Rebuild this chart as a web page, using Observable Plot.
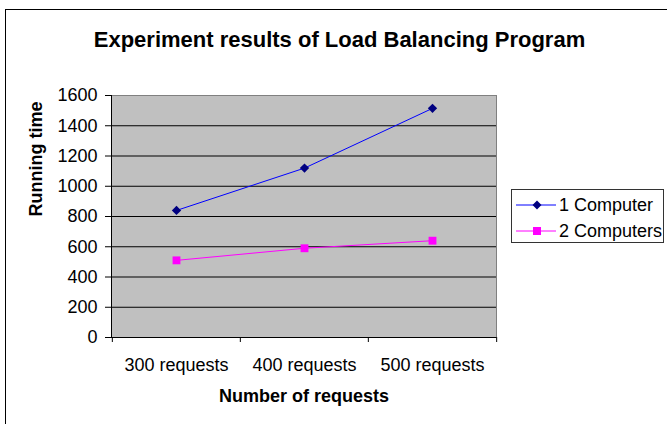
<!DOCTYPE html>
<html>
<head>
<meta charset="utf-8">
<script src="https://cdn.jsdelivr.net/npm/d3@7"></script>
<script src="https://cdn.jsdelivr.net/npm/@observablehq/plot@0.6"></script>
<style>
  html, body { margin: 0; padding: 0; background: #fff; overflow: hidden; }
  body { width: 667px; height: 424px; position: relative; font-family: "Liberation Sans", Arial, sans-serif; }
  #border { position: absolute; left: 5px; top: 9px; width: 800px; height: 600px; border: 1px solid #000; box-sizing: border-box; }
  #chart { position: absolute; left: 0; top: 0; }
  #title { position: absolute; left: 0; width: 679px; top: 28px; text-align: center; font-weight: bold; font-size: 22px; line-height: 24px; color: #000; }
  #legend { position: absolute; left: 511px; top: 189px; width: 153px; height: 54px; border: 1px solid #333; box-sizing: border-box; background: #fff; }
  .item { position: absolute; left: 0; height: 20px; width: 150px; }
  .item svg { position: absolute; left: 4px; top: 0; }
  .item span { position: absolute; left: 47px; top: 0; font-size: 18px; line-height: 20px; white-space: nowrap; color: #000; }
</style>
</head>
<body>
<div id="border"></div>
<div id="chart"></div>
<div id="title">Experiment results of Load Balancing Program</div>
<div id="legend"></div>
<script>
// ---- data ----
const categories = ["300 requests", "400 requests", "500 requests"];
const oneComputer = [840, 1120, 1515];
const twoComputers = [510, 590, 640];
const seriesNames = ["1 Computer", "2 Computers"];
const yTicks = [0, 200, 400, 600, 800, 1000, 1200, 1400, 1600];
const titleText = "Experiment results of Load Balancing Program";
const xTitle = "Number of requests";
const yTitle = "Running time";

// ---- layout / style ----
const W = 667, H = 424;
const mL = 111, mR = 171, mT = 95, mB = 87;
const bw = (W - mL - mR) / categories.length;
const colors = {line1: "#0000ff", mark1: "#000080", line2: "#ff00ff", mark2: "#ff00ff"};

const rows1 = categories.map((c, i) => ({cat: c, v: oneComputer[i]}));
const rows2 = categories.map((c, i) => ({cat: c, v: twoComputers[i]}));

const chart = Plot.plot({
  width: W, height: H,
  marginLeft: mL, marginRight: mR, marginTop: mT, marginBottom: mB,
  style: {fontFamily: "'Liberation Sans', Arial, sans-serif", fontSize: "18px", background: "transparent", color: "#000", overflow: "visible"},
  x: {type: "band", domain: categories, padding: 0, label: null},
  y: {domain: [0, 1600], label: null},
  marks: [
    Plot.frame({fill: "#c0c0c0", stroke: "#808080"}),
    Plot.ruleY(yTicks.filter(d => d > 0 && d < 1600), {stroke: "#000", strokeWidth: 1}),
    Plot.ruleY([0], {stroke: "#000", strokeWidth: 1}),
    Plot.frame({anchor: "left", stroke: "#000"}),
    Plot.ruleX(categories, {x: d => d, y1: 0, y2: 0, insetBottom: -5, dx: -bw / 2, stroke: "#000"}),
    Plot.ruleX(categories.slice(-1), {x: d => d, y1: 0, y2: 0, insetBottom: -5, dx: bw / 2, stroke: "#000"}),
    Plot.axisY({ticks: yTicks, tickSize: 6, tickPadding: 8, tickFormat: d => String(d), fontSize: 18, label: null}),
    Plot.axisX({tickSize: 0, tickPadding: 21, fontSize: 18, label: null}),
    Plot.line(rows1, {x: "cat", y: "v", stroke: colors.line1, strokeWidth: 1}),
    Plot.dot(rows1, {x: "cat", y: "v", symbol: "diamond2", r: 4.2, fill: colors.mark1, stroke: "none"}),
    Plot.line(rows2, {x: "cat", y: "v", stroke: colors.line2, strokeWidth: 1}),
    Plot.dot(rows2, {x: "cat", y: "v", symbol: "square2", r: 5, fill: colors.mark2, stroke: "none"}),
    Plot.text([yTitle], {frameAnchor: "left", dx: -75, rotate: -90, fontWeight: "bold", fontSize: 18, fill: "#000"}),
    Plot.text([xTitle], {frameAnchor: "bottom", dy: 64, fontWeight: "bold", fontSize: 18, fill: "#000"})
  ]
});
document.getElementById("chart").appendChild(chart);
document.getElementById("title").textContent = titleText;

// ---- legend ----
const legend = document.getElementById("legend");
const legendSpec = [
  {name: seriesNames[0], line: colors.line1, mark: colors.mark1, shape: "diamond", top: 5},
  {name: seriesNames[1], line: colors.line2, mark: colors.mark2, shape: "square", top: 31}
];
legendSpec.forEach(s => {
  const item = document.createElement("div");
  item.className = "item";
  item.style.top = s.top + "px";
  const marker = s.shape === "diamond"
    ? `<path d="M21,5.5 L25.5,10 L21,14.5 L16.5,10 Z" fill="${s.mark}"/>`
    : `<rect x="17" y="6" width="8" height="8" fill="${s.mark}"/>`;
  item.innerHTML = `<svg width="42" height="20"><line x1="0" y1="10" x2="40" y2="10" stroke="${s.line}" stroke-width="1"/>${marker}</svg><span>${s.name}</span>`;
  legend.appendChild(item);
});
</script>
</body>
</html>
